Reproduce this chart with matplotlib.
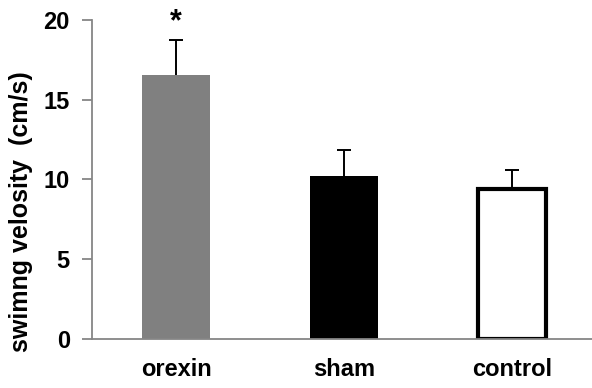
import matplotlib.pyplot as plt
import numpy as np

# Mean swimming velocity per group, with upward SEM bars
groups = ["orexin", "sham", "control"]
means = [16.56, 10.19, 9.38]
errors = [2.19, 1.66, 1.24]
fills = ["#808080", "#000000", "#ffffff"]

plt.rcParams["font.family"] = ["Liberation Sans", "DejaVu Sans"]
plt.rcParams["font.weight"] = "bold"

fig = plt.figure(figsize=(5.92, 3.88), dpi=100)
ax = fig.add_axes([0.1554, 0.1263, 0.8446, 0.8222])

x = np.arange(len(groups))
ax.bar(x, means, width=0.405, color=fills, edgecolor=["#808080", "#000000", "#000000"],
       linewidth=[0, 0, 3], zorder=2)
eb = ax.errorbar(x, means, yerr=[np.zeros(len(means)), errors], fmt="none",
                 ecolor="black", elinewidth=1.4, capsize=5, capthick=1.4, zorder=1)
# only the upper cap is wanted
eb[1][0].set_visible(False)

# significance marker over orexin
ax.text(x[0], means[0] + errors[0] + 0.15, "*", ha="center", va="bottom",
        fontsize=22, fontweight="bold")

ax.set_xlim(-0.5, 2.476)
ax.set_ylim(0, 20)
ax.set_yticks([0, 5, 10, 15, 20])
ax.set_xticks(x)
ax.set_xticklabels(groups, fontsize=17, fontweight="bold")
ax.tick_params(axis="y", labelsize=17, length=7, width=1.3, color="#868686", pad=9)
ax.tick_params(axis="x", length=0, pad=14)
for lbl in ax.get_yticklabels():
    lbl.set_fontweight("bold")

for side in ["top", "right"]:
    ax.spines[side].set_visible(False)
for side in ["left", "bottom"]:
    ax.spines[side].set_color("#868686")
    ax.spines[side].set_linewidth(1.3)

ax.set_ylabel("swimng velosity  (cm/s)", fontsize=18, fontweight="bold")
ax.yaxis.set_label_coords(-0.118, 0.4)

fig.savefig("out.png", dpi=100)
